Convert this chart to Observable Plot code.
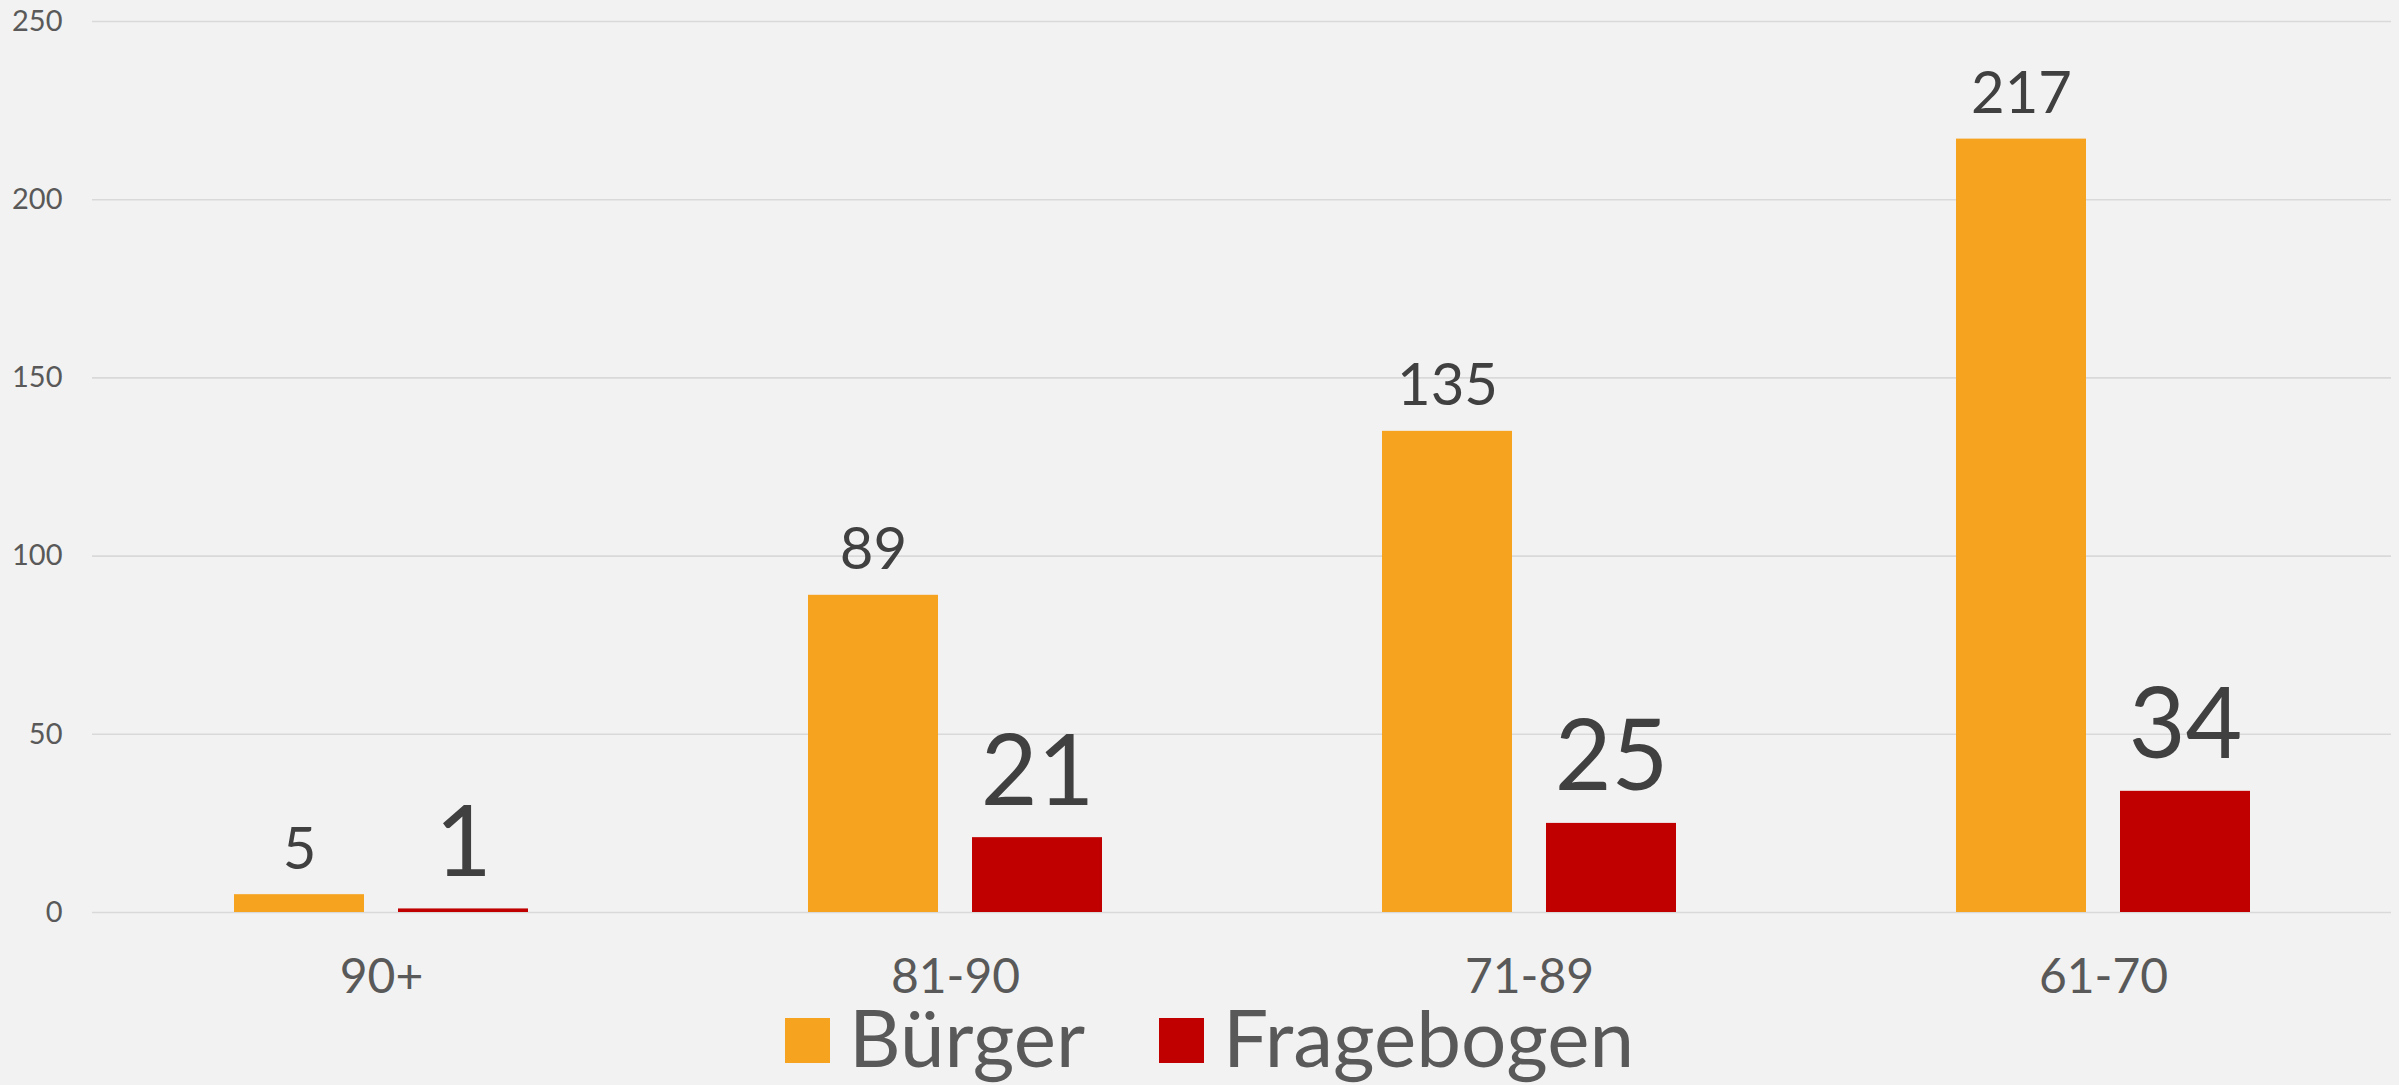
<!DOCTYPE html>
<html><head><meta charset="utf-8">
<script src="https://cdn.jsdelivr.net/npm/d3@7"></script>
<script src="https://cdn.jsdelivr.net/npm/@observablehq/plot@0.6"></script>
<style>
html,body{margin:0;padding:0;background:#f2f2f2;overflow:hidden}
body{width:2399px;height:1085px;font-family:Lato,sans-serif}
#chart svg{display:block}
#legend{height:75px;overflow:hidden;display:flex;align-items:flex-start;padding-left:785px;color:#595959;font-size:80px;line-height:80px}
.item{display:flex;align-items:flex-start}
.sw{width:45px;height:45px;margin-top:8px;margin-right:19px}
.lbl{margin-top:-14px;margin-right:74px;white-space:nowrap}
</style></head><body><div id="chart"></div><div id="legend"></div>
<script>
const categories = ["90+", "81-90", "71-89", "61-70"];
const seriesNames = ["Bürger", "Fragebogen"];
const buergerValues = [5, 89, 135, 217];
const fragebogenValues = [1, 21, 25, 34];
const yTicks = [0, 50, 100, 150, 200, 250];
const colors = ["#f6a31f", "#c00000"];

const buerger = categories.map((c, i) => ({category: c, series: seriesNames[0], value: buergerValues[i]}));
const fragebogen = categories.map((c, i) => ({category: c, series: seriesNames[1], value: fragebogenValues[i]}));

const plot = Plot.plot({
  width: 2399, height: 1010,
  marginTop: 21, marginBottom: 98, marginLeft: 92, marginRight: 8,
  style: {background: "#f2f2f2", fontFamily: "Lato, sans-serif", color: "#595959"},
  x: {domain: categories, paddingInner: 0.774, paddingOuter: 0.387, label: null},
  y: {domain: [0, 250], label: null},
  marks: [
    Plot.ruleY(yTicks, {stroke: "#d9d9d9", strokeWidth: 1.6}),
    Plot.axisY({ticks: yTicks, tickSize: 0, tickPadding: 30, fontSize: 29, label: null}),
    Plot.axisX({tickSize: 0, tickPadding: 46, fontSize: 48, label: null}),
    Plot.barY(buerger, {x: "category", y: "value", fill: colors[0], dx: -82}),
    Plot.barY(fragebogen, {x: "category", y: "value", fill: colors[1], dx: 82}),
    Plot.text(buerger, {x: "category", y: "value", text: d => String(d.value), dx: -82, dy: -26, lineAnchor: "bottom", fontSize: 58, fill: "#404040"}),
    Plot.text(fragebogen, {x: "category", y: "value", text: d => String(d.value), dx: 82, dy: -33, lineAnchor: "bottom", fontSize: 98, fill: "#404040"})
  ]
});
document.getElementById("chart").appendChild(plot);

const legend = document.getElementById("legend");
seriesNames.forEach((name, i) => {
  const item = document.createElement("div");
  item.className = "item";
  const sw = document.createElement("div");
  sw.className = "sw";
  sw.style.background = colors[i];
  const lbl = document.createElement("span");
  lbl.className = "lbl";
  lbl.textContent = name;
  item.appendChild(sw);
  item.appendChild(lbl);
  legend.appendChild(item);
});
</script>
</body></html>
